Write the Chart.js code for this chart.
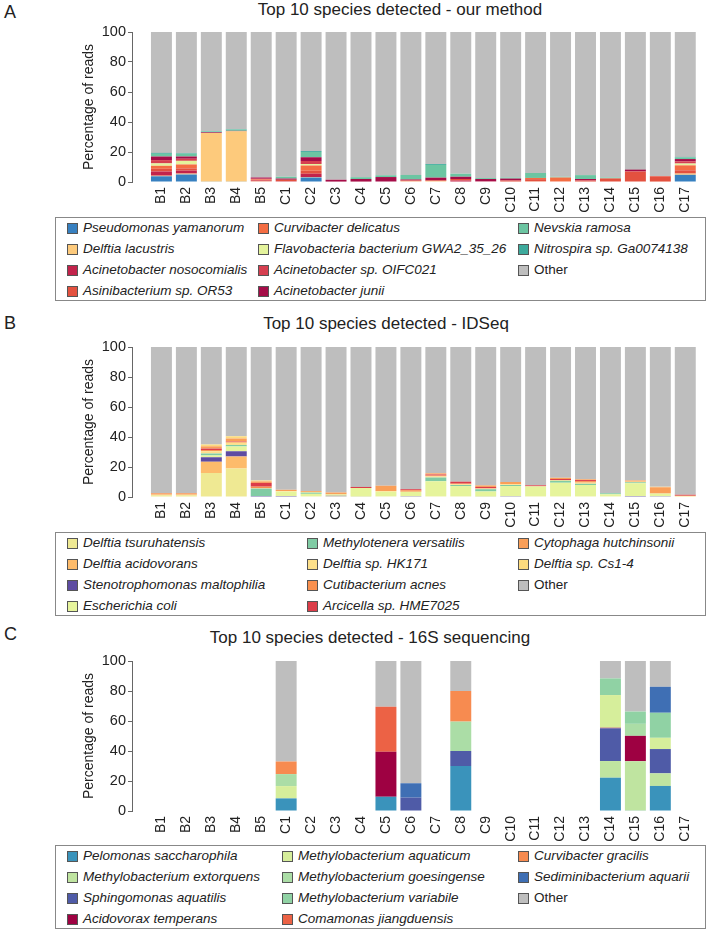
<!DOCTYPE html>
<html>
<head>
<meta charset="utf-8">
<script src="https://cdn.jsdelivr.net/npm/chart.js@4.4.1/dist/chart.umd.min.js"></script>
<style>
    body {
        margin: 0;
        width: 708px;
        height: 934px;
        position: relative;
        background: #fff;
        font-family: "Liberation Sans", Arial, sans-serif;
        color: #222;
        overflow: hidden;
    }
    canvas { position: absolute; left: 0; }
    .panel-letter { position: absolute; left: 4px; font-size: 18px; line-height: 20px; }
    .panel-title {
        position: absolute;
        font-size: 17px;
        line-height: 20px;
        white-space: nowrap;
        transform: translateX(-50%);
    }
    .legend {
        position: absolute;
        left: 55px;
        width: 649px;
        height: 82px;
        border: 1px solid #888;
        background: #fff;
    }
    .legend-item {
        position: absolute;
        height: 16px;
        line-height: 16px;
        font-size: 13.5px;
        white-space: nowrap;
        font-style: italic;
    }
    .legend-item.plain { font-style: normal; }
    .swatch {
        position: absolute;
        left: -16px;
        top: 3px;
        width: 9px;
        height: 9px;
        border: 1px solid #555;
    }
</style>
</head>
<body>

<div class="panel-letter" style="top:2px">A</div>
<div class="panel-title" style="left:400px; top:0px">Top 10 species detected - our method</div>
<canvas id="chart-a" width="708" height="215" style="top:0px"></canvas>
<div id="legend-a" class="legend" style="top:217px"></div>

<div class="panel-letter" style="top:313px">B</div>
<div class="panel-title" style="left:386px; top:314px">Top 10 species detected - IDSeq</div>
<canvas id="chart-b" width="708" height="218" style="top:312px"></canvas>
<div id="legend-b" class="legend" style="top:532px"></div>

<div class="panel-letter" style="top:624px">C</div>
<div class="panel-title" style="left:370px; top:628px">Top 10 species detected - 16S sequencing</div>
<canvas id="chart-c" width="708" height="218" style="top:626px"></canvas>
<div id="legend-c" class="legend" style="top:845px"></div>

<script>
// Samples on the x axis and the y tick values
const sampleLabels = ['B1', 'B2', 'B3', 'B4', 'B5', 'C1', 'C2', 'C3', 'C4', 'C5', 'C6',
    'C7', 'C8', 'C9', 'C10', 'C11', 'C12', 'C13', 'C14', 'C15', 'C16', 'C17'];
const yTickValues = [0, 20, 40, 60, 80, 100];

// Panel A - our method (percent of reads per sample)
const pseudomonasYamanorum = [3.8, 5.0, 0.4, 0.4, 0, 0, 3.0, 0, 0, 0, 0, 0, 0, 0, 0, 0, 0, 0, 0, 0, 0, 4.8];
const delftiaLacustris = [0.4, 0.6, 32.2, 33.4, 0.5, 0, 0.3, 0, 0, 0, 0.5, 0.6, 0, 0, 0, 0.4, 0, 0, 0, 0, 0.3, 0.8];
const acinetobacterNosocomialis = [2.8, 2.0, 0, 0, 0.4, 0.5, 2.2, 0.3, 0, 0, 0, 0, 1.0, 0.5, 0, 0, 0, 0, 0, 0, 0, 0];
const asinibacteriumOR53 = [1.8, 1.5, 0, 0, 0.6, 1.0, 2.0, 0, 0.3, 0, 0.5, 0.5, 1.0, 0, 1.0, 1.5, 0.4, 1.0, 2.4, 7.0, 3.5, 2.2];
const curvibacterDelicatus = [2.0, 2.6, 0, 0, 0.4, 0, 3.5, 0, 0, 0, 0, 0, 0, 0, 0, 0.8, 2.6, 0, 0, 0, 0.2, 3.3];
const flavobacteriaGWA2 = [1.6, 2.4, 0, 0, 0, 0, 1.0, 0, 0, 0, 0, 0, 0, 0, 0, 0, 0, 0, 0, 0, 0, 1.2];
const acinetobacterOIFC021 = [2.2, 1.4, 0, 0, 0.3, 0, 2.0, 0, 0, 0, 0, 0, 0, 0, 0, 0, 0, 0, 0, 0, 0, 1.5];
const acinetobacterJunii = [2.4, 1.5, 0.5, 0.3, 0.8, 0.8, 2.5, 1.2, 1.7, 3.3, 0.7, 1.8, 1.5, 1.5, 1.3, 0, 0, 1.0, 0, 1.3, 0, 1.5];
const nevskiaRamosa = [1.8, 1.8, 0.6, 0.8, 0, 1.2, 3.5, 0, 1.2, 1.2, 3.0, 8.5, 2.0, 0.6, 0.7, 3.3, 0.5, 2.6, 0.6, 0.2, 0, 1.0];
const nitrospiraGa0074138 = [0.6, 0.4, 0.3, 0.3, 0, 0, 0.6, 0, 0, 0, 0, 0.6, 0, 0, 0, 0, 0, 0, 0, 0, 0, 0.4];
const otherA = [80.6, 80.8, 66.0, 64.8, 97.0, 96.5, 79.4, 98.5, 96.8, 95.5, 95.3, 88.0, 94.5, 97.4, 97.0, 94.0, 96.5, 95.4, 97.0, 91.5, 96.0, 83.3];

// Panel B - IDSeq
const delftiaTsuruhatensis = [1.2, 1.2, 16.0, 19.0, 0, 0, 0.5, 0.5, 0, 0.5, 0, 0.5, 0.5, 0, 0, 0.5, 0.5, 0.5, 0.5, 0, 0, 0];
const delftiaAcidovorans = [0.5, 0.5, 7.5, 8.0, 0, 0, 0, 0, 0, 0, 0, 0, 0, 0, 0, 0, 0, 0, 0, 0, 0, 0];
const stenotrophomonasMaltophilia = [0, 0, 3.0, 3.5, 0.6, 0.6, 0, 0.3, 0.3, 0, 0.5, 0, 0, 0.3, 0.5, 0, 0, 0, 0, 0.6, 0.5, 0];
const escherichiaColi = [0, 0, 1.2, 3.2, 0, 3.0, 1.6, 0.9, 5.7, 3.0, 3.0, 10.0, 6.8, 3.4, 6.8, 6.6, 9.0, 7.5, 1.3, 8.6, 1.8, 0];
const methyloteneraVersatilis = [0, 0, 1.3, 1.0, 5.0, 0, 0.8, 0, 0, 0, 0, 2.5, 0.7, 1.5, 0.7, 0, 1.3, 0.8, 0.7, 0.6, 0, 0];
const delftiaHK171 = [0, 0, 1.5, 1.5, 0.3, 0.4, 0.5, 0, 0, 0.5, 0, 0.8, 0.5, 0.5, 0.5, 0, 0.5, 0.8, 0, 0.4, 0, 0.8];
const cutibacteriumAcnes = [0.8, 0.8, 0.8, 0.5, 1.0, 0, 0, 0, 0, 0, 1.0, 0.5, 0.4, 0, 0, 0, 0, 1.0, 0, 0, 0, 0];
const arcicellaHME7025 = [0, 0, 1.0, 0.3, 2.5, 0, 0, 0, 0.7, 0, 0.7, 0.7, 1.3, 1.0, 0, 0.7, 0.7, 0.7, 0, 0, 0, 0.7];
const cytophagaHutchinsonii = [0, 0, 1.5, 2.0, 1.0, 0.8, 0.6, 1.3, 0, 3.5, 0, 0.8, 0, 1.0, 1.5, 0, 0.8, 0.5, 0, 0.8, 4.2, 0];
const delftiaCs14 = [0, 0, 1.2, 1.5, 0.6, 0, 0, 0, 0, 0, 0, 0, 0, 0, 0, 0, 0, 0, 0, 0, 0.3, 0];
const otherB = [97.5, 97.5, 65.0, 59.5, 89.0, 95.2, 96.0, 97.0, 93.3, 92.5, 94.8, 84.2, 89.8, 92.3, 90.0, 92.2, 87.2, 88.2, 97.5, 89.0, 93.2, 98.5];

// Panel C - 16S sequencing (only some samples sequenced)
const pelomonasSaccharophila = [0, 0, 0, 0, 0, 8.4, 0, 0, 0, 9.5, 0, 0, 30.0, 0, 0, 0, 0, 0, 22.2, 0.4, 16.7, 0];
const methylobacteriumExtorquens = [0, 0, 0, 0, 0, 0, 0, 0, 0, 0, 0, 0, 0, 0, 0, 0, 0, 0, 11.1, 32.8, 8.4, 0];
const sphingomonasAquatilis = [0, 0, 0, 0, 0, 0, 0, 0, 0, 0, 8.9, 0, 10.0, 0, 0, 0, 0, 0, 21.8, 0, 16.2, 0];
const acidovoraxTemperans = [0, 0, 0, 0, 0, 0, 0, 0, 0, 30.0, 0, 0, 0, 0, 0, 0, 0, 0, 0.4, 16.9, 0, 0];
const methylobacteriumAquaticum = [0, 0, 0, 0, 0, 8.2, 0, 0, 0, 0, 0, 0, 0, 0, 0, 0, 0, 0, 21.8, 0, 7.5, 0];
const methylobacteriumGoesingense = [0, 0, 0, 0, 0, 8.0, 0, 0, 0, 0, 0, 0, 19.6, 0, 0, 0, 0, 0, 0, 8.0, 0, 0];
const methylobacteriumVariabile = [0, 0, 0, 0, 0, 0, 0, 0, 0, 0, 0, 0, 0, 0, 0, 0, 0, 0, 11.1, 8.2, 16.7, 0];
const comamonasJiangduensis = [0, 0, 0, 0, 0, 0, 0, 0, 0, 30.0, 0, 0, 0, 0, 0, 0, 0, 0, 0, 0, 0, 0];
const curvibacterGracilis = [0, 0, 0, 0, 0, 8.4, 0, 0, 0, 0, 0, 0, 20.4, 0, 0, 0, 0, 0, 0, 0, 0, 0];
const sediminibacteriumAquarii = [0, 0, 0, 0, 0, 0, 0, 0, 0, 0, 9.6, 0, 0, 0, 0, 0, 0, 0, 0, 0, 17.3, 0];
const otherC = [0, 0, 0, 0, 0, 67.0, 0, 0, 0, 30.5, 81.5, 0, 20.0, 0, 0, 0, 0, 0, 11.6, 33.7, 17.2, 0];

// Legend names (stack order, bottom to top)
const namesA = ['Pseudomonas yamanorum', 'Delftia lacustris', 'Acinetobacter nosocomialis', 'Asinibacterium sp. OR53',
    'Curvibacter delicatus', 'Flavobacteria bacterium GWA2_35_26', 'Acinetobacter sp. OIFC021', 'Acinetobacter junii',
    'Nevskia ramosa', 'Nitrospira sp. Ga0074138', 'Other'];
const namesB = ['Delftia tsuruhatensis', 'Delftia acidovorans', 'Stenotrophomonas maltophilia', 'Escherichia coli',
    'Methylotenera versatilis', 'Delftia sp. HK171', 'Cutibacterium acnes', 'Arcicella sp. HME7025',
    'Cytophaga hutchinsonii', 'Delftia sp. Cs1-4', 'Other'];
const namesC = ['Pelomonas saccharophila', 'Methylobacterium extorquens', 'Sphingomonas aquatilis', 'Acidovorax temperans',
    'Methylobacterium aquaticum', 'Methylobacterium goesingense', 'Methylobacterium variabile', 'Comamonas jiangduensis',
    'Curvibacter gracilis', 'Sediminibacterium aquarii', 'Other'];

const seriesA = [pseudomonasYamanorum, delftiaLacustris, acinetobacterNosocomialis, asinibacteriumOR53,
    curvibacterDelicatus, flavobacteriaGWA2, acinetobacterOIFC021, acinetobacterJunii,
    nevskiaRamosa, nitrospiraGa0074138, otherA];
const seriesB = [delftiaTsuruhatensis, delftiaAcidovorans, stenotrophomonasMaltophilia, escherichiaColi,
    methyloteneraVersatilis, delftiaHK171, cutibacteriumAcnes, arcicellaHME7025,
    cytophagaHutchinsonii, delftiaCs14, otherB];
const seriesC = [pelomonasSaccharophila, methylobacteriumExtorquens, sphingomonasAquatilis, acidovoraxTemperans,
    methylobacteriumAquaticum, methylobacteriumGoesingense, methylobacteriumVariabile, comamonasJiangduensis,
    curvibacterGracilis, sediminibacteriumAquarii, otherC];

// Colours
const colorsA = ['#3780c0', '#fdca7c', '#c2234b', '#e3513f', '#f46d43', '#e4f39c',
    '#d63f50', '#a50d48', '#6cc5a2', '#3daa9c', '#bebebe'];
const colorsB = ['#efe993', '#fdbb6b', '#5e4ca2', '#e6f49c', '#80cba4', '#fde08b',
    '#f8904f', '#dc3d49', '#fa9f58', '#fddb7e', '#bebebe'];
const colorsC = ['#3a93bb', '#bfe4a0', '#4f5ba7', '#9e0142', '#d6ee9b', '#abdda6',
    '#90d2a4', '#ec6245', '#f78b50', '#3f6fb4', '#bebebe'];

const FONT = '"Liberation Sans", Arial, sans-serif';

// Turn the value arrays into stacked bar datasets
function makeDatasets(names, colors, series) {
    return series.map((values, k) => ({
        label: names[k],
        data: values.map((v, i) => ({ x: i, y: v })),
        backgroundColor: colors[k],
        borderWidth: 0,
        barPercentage: 0.84,
        categoryPercentage: 1
    }));
}

// One panel: y axis line sits at x=132, bars run from ~151 to ~696
function drawPanel(canvasId, datasets, topPad) {
    const canvas = document.getElementById(canvasId);
    const xAxisHeight = canvas.height - topPad - 150;

    return new Chart(canvas.getContext('2d'), {
        type: 'bar',
        data: { datasets: datasets },
        options: {
            responsive: false,
            animation: false,
            devicePixelRatio: 1,
            layout: { padding: { top: topPad, left: 81, right: 10, bottom: 0 } },
            plugins: {
                legend: { display: false },
                tooltip: { enabled: false },
                title: { display: false }
            },
            scales: {
                x: {
                    type: 'linear',
                    min: -1.18,
                    max: 21.51,
                    offset: false,
                    stacked: true,
                    grid: { display: false, drawTicks: false, offset: false },
                    border: { display: false },
                    afterBuildTicks: (axis) => {
                        axis.ticks = sampleLabels.map((_, i) => ({ value: i }));
                    },
                    ticks: {
                        autoSkip: false,
                        minRotation: 90,
                        maxRotation: 90,
                        padding: 5,
                        color: '#222',
                        font: { family: FONT, size: 14 },
                        callback: (value) => sampleLabels[value]
                    },
                    afterFit: (axis) => { axis.height = xAxisHeight; }
                },
                y: {
                    min: 0,
                    max: 100,
                    stacked: true,
                    border: { display: true, color: '#666' },
                    grid: { display: true, drawOnChartArea: false, drawTicks: true, tickLength: 4, color: '#666' },
                    afterBuildTicks: (axis) => {
                        axis.ticks = yTickValues.map(v => ({ value: v }));
                    },
                    ticks: {
                        padding: 2,
                        color: '#222',
                        font: { family: FONT, size: 14.5 }
                    },
                    title: {
                        display: true,
                        text: 'Percentage of reads',
                        color: '#222',
                        font: { family: FONT, size: 14 },
                        padding: { top: 0, bottom: 0 }
                    },
                    afterFit: (axis) => { axis.width = 51; }
                }
            }
        }
    });
}

// HTML legend: 3 columns filled top to bottom, 4 rows
function buildLegend(legendId, names, colors, columnX) {
    const box = document.getElementById(legendId);
    names.forEach((name, k) => {
        const col = Math.floor(k / 4);
        const row = k % 4;
        const item = document.createElement('div');
        item.className = name === 'Other' ? 'legend-item plain' : 'legend-item';
        item.style.left = (columnX[col] - 56) + 'px';
        item.style.top = (10.5 + row * 21 - 8 - 1) + 'px';

        const swatch = document.createElement('span');
        swatch.className = 'swatch';
        swatch.style.background = colors[k];
        item.appendChild(swatch);
        item.appendChild(document.createTextNode(name));
        box.appendChild(item);
    });
}

function init() {
    drawPanel('chart-a', makeDatasets(namesA, colorsA, seriesA), 32);
    drawPanel('chart-b', makeDatasets(namesB, colorsB, seriesB), 35);
    drawPanel('chart-c', makeDatasets(namesC, colorsC, seriesC), 35);

    buildLegend('legend-a', namesA, colorsA, [83, 274, 534]);
    buildLegend('legend-b', namesB, colorsB, [83, 323, 534]);
    buildLegend('legend-c', namesC, colorsC, [83, 298, 534]);
}

init();
</script>
</body>
</html>
